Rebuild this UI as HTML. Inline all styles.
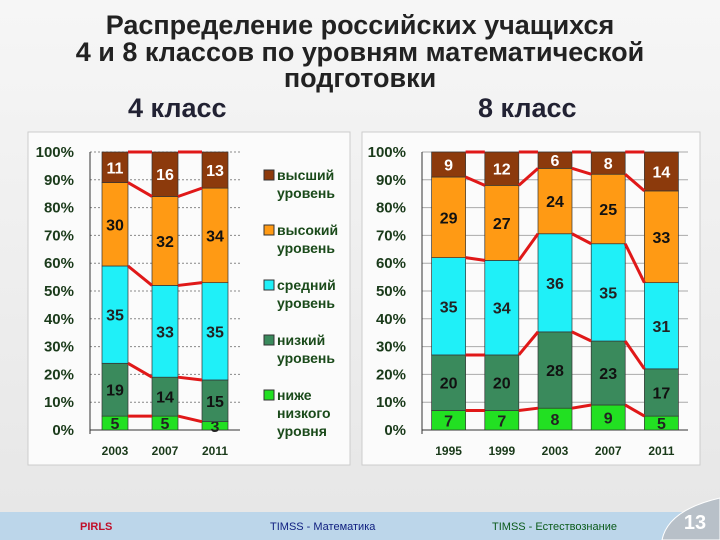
<!DOCTYPE html>
<html><head><meta charset="utf-8"><style>
body{margin:0;width:720px;height:540px;overflow:hidden;background:linear-gradient(#f6f6f6,#e6e6e6);font-family:"Liberation Sans","DejaVu Sans",sans-serif;position:relative}
.t{position:absolute;left:0;width:720px;text-align:center;font-weight:bold;font-size:27px;color:#222;line-height:27px}
</style></head><body>
<div class="t" style="top:12px">Распределение российских учащихся</div>
<div class="t" style="top:39px">4 и 8 классов по уровням математической</div>
<div class="t" style="top:65px">подготовки</div>
<div style="position:absolute;left:128px;top:93px;font-size:27px;font-weight:bold;color:#223">4 класс</div>
<div style="position:absolute;left:478px;top:93px;font-size:27px;font-weight:bold;color:#223">8 класс</div>
<svg id="svg" width="720" height="540" style="position:absolute;left:0;top:0">
<rect x="28" y="132" width="322" height="333" fill="#fbfbfb" stroke="#ccc"/>
<rect x="362" y="132" width="338" height="333" fill="#fbfbfb" stroke="#ccc"/>
<rect x="0" y="512" width="720" height="28" fill="#bcd6ea"/>
<text x="80" y="530" font-size="11" font-weight="bold" fill="#c0102a">PIRLS</text>
<text x="270" y="530" font-size="11" fill="#102080">TIMSS - Математика</text>
<text x="492" y="530" font-size="11" fill="#0a5a1a">TIMSS - Естествознание</text>
<path d="M662 540 Q668 510 720 498 L720 540 Z" fill="#b8c0c8" stroke="#fff"/>
<text x="695" y="529" font-size="20" font-weight="bold" fill="#fff" text-anchor="middle">13</text>
</svg>
<script>
const colors=['#22e022','#3a8a5c','#1ff0f8','#ff9a14','#8c3a0c'];
const txtCol=['#222','#111','#222','#111','#fff'];
const leftCats=['2003','2007','2011'];
const leftS0=[5,5,3],leftS1=[19,14,15],leftS2=[35,33,35],leftS3=[30,32,34],leftS4=[11,16,13];
const rightCats=['1995','1999','2003','2007','2011'];
const rightS0=[7,7,8,9,5],rightS1=[20,20,28,23,17],rightS2=[35,34,36,35,31],rightS3=[29,27,24,25,33],rightS4=[9,12,6,8,14];
const yTicks=[0,10,20,30,40,50,60,70,80,90,100];
const legendLabels=[['высший','уровень'],['высокий','уровень'],['средний','уровень'],['низкий','уровень'],['ниже','низкого','уровня']];
const svg=document.getElementById('svg');const NS='http://www.w3.org/2000/svg';
function el(t,a){const e=document.createElementNS(NS,t);for(const k in a)e.setAttribute(k,a[k]);svg.appendChild(e);return e;}
function chart(o){
 const y=v=>430-v*2.78;
 yTicks.forEach(t=>{const l=el('line',{x1:o.x0,x2:o.x1,y1:y(t),y2:y(t),stroke:o.grid,'stroke-width':1,'stroke-dasharray':o.dash});
 
 
 const tx=el('text',{x:o.x0-16,y:y(t)+5,'text-anchor':'end','font-size':15,'font-weight':'bold',fill:'#1a3a1a'});tx.textContent=t+'%';
 
 });
 const ax=el('line',{x1:o.x0,x2:o.x0,y1:y(100),y2:y(0)+4,stroke:'#333'});
 
 const ax2=el('line',{x1:o.x0,x2:o.x1,y1:y(0),y2:y(0),stroke:'#333'});
 
 const n=o.cats.length,step=(o.x1-o.x0)/n;
 const tops=[];
 o.cats.forEach((c,i)=>{
  const vals=o.series.map(s=>s[i]);const sum=vals.reduce((a,b)=>a+b,0);
  const bx=o.x0+step*i+(step-o.bw)/2;let cum=0;const bnd=[];
  vals.forEach((v,k)=>{const v0=cum/sum*100;cum+=v;const v1=cum/sum*100;
   const r=el('rect',{x:bx,y:y(v1),width:o.bw,height:y(v0)-y(v1),fill:colors[k],stroke:'#333','stroke-width':0.7});
   
   
   const tx=el('text',{x:bx+o.bw/2,y:(y(v0)+y(v1))/2+6,'text-anchor':'middle','font-size':16,'font-weight':'bold',fill:txtCol[k]});tx.textContent=v;
   
   
   bnd.push(v1);});
  tops.push({bx,bnd:[vals[0]/sum*100].concat(bnd.slice(1))});
  const yl=el('text',{x:bx+o.bw/2,y:455,'text-anchor':'middle','font-size':12,'font-weight':'bold',fill:'#1a3a1a'});yl.textContent=c;
  
  
 });
 for(let i=0;i<n-1;i++){for(let k=0;k<5;k++){
  const a=tops[i].bnd[k],b=tops[i+1].bnd[k];
  const ln=el('line',{x1:tops[i].bx+o.bw,y1:y(a),x2:tops[i+1].bx,y2:y(b),stroke:'#e01818','stroke-width':3});
  
  }}
}
chart({x0:90,x1:240,bw:26,cats:leftCats,series:[leftS0,leftS1,leftS2,leftS3,leftS4],grid:'#888',dash:'2,2'});
chart({x0:422,x1:688,bw:34,cats:rightCats,series:[rightS0,rightS1,rightS2,rightS3,rightS4],grid:'#aaa',dash:''});
legendLabels.forEach((lab,i)=>{const k=4-i;const y0=170+i*55;
 const r=el('rect',{x:264,y:y0,width:10,height:10,fill:colors[k],stroke:'#333'});
 
 
 lab.forEach((s,j)=>{const t=el('text',{x:277,y:y0+10+j*18,'font-size':14,'font-weight':'bold',fill:'#1a4a1a'});t.textContent=s;
 
 });
});
</script>
</body></html>
